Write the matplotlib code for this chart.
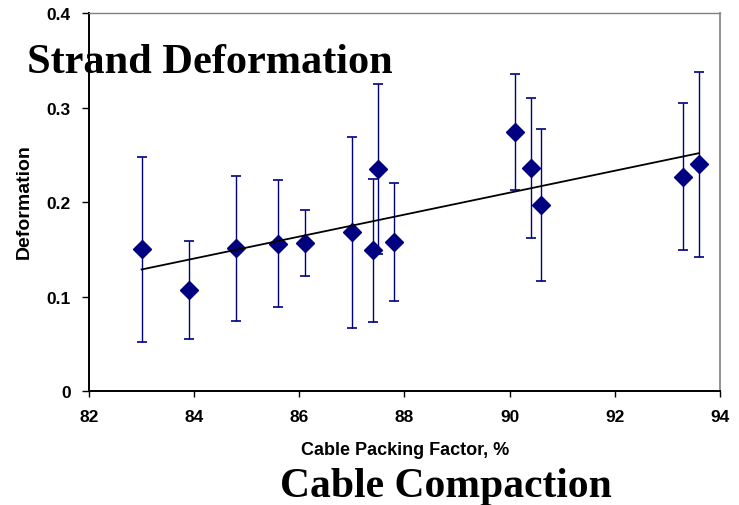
import numpy as np
import matplotlib
matplotlib.use("Agg")
import matplotlib.pyplot as plt

# cable packing factor (%) vs strand deformation, with error bars
packing = [83.0, 83.9, 84.8, 85.6, 86.1, 87.0, 87.4, 87.5, 87.8, 90.1, 90.4, 90.6, 93.3, 93.6]
deform = [0.150, 0.107, 0.151, 0.156, 0.157, 0.168, 0.149, 0.235, 0.158, 0.274, 0.236, 0.197, 0.227, 0.240]
err = [0.098, 0.052, 0.077, 0.067, 0.035, 0.101, 0.076, 0.090, 0.062, 0.061, 0.074, 0.080, 0.078, 0.098]

xticks = [82, 84, 86, 88, 90, 92, 94]
yticks = [0, 0.1, 0.2, 0.3, 0.4]
yticklabels = ["0", "0.1", "0.2", "0.3", "0.4"]

navy = "#000080"

fig = plt.figure(figsize=(7.39, 5.06), dpi=100)
ax = fig.add_axes([0.1204, 0.2247, 0.8539, 0.7476])

eb = ax.errorbar(packing, deform, yerr=err, fmt="none", ecolor=navy, elinewidth=1.0,
                 capsize=3.3, capthick=1.2, zorder=2)
for cap in eb[1]:
    cap.set_color("#5a5ab0")
ax.plot(packing, deform, linestyle="none", marker="D", markersize=9.3,
        color=navy, zorder=3)

# linear trendline over the data range
k, b = np.polyfit(packing, deform, 1)
xs = np.array([min(packing), max(packing)])
ax.plot(xs, k * xs + b, color="black", linewidth=1.3, zorder=4)

ax.set_xlim(82, 94)
ax.set_ylim(0, 0.4)
ax.set_xticks(xticks)
ax.set_yticks(yticks)
ax.set_yticklabels(yticklabels)
for lab in ax.get_xticklabels() + ax.get_yticklabels():
    lab.set_fontweight("bold")
    lab.set_fontfamily("Liberation Sans")
    lab.set_fontsize(12.5)
ax.tick_params(axis="y", direction="out", length=5, width=1, pad=8)
ax.tick_params(axis="x", direction="out", length=4, width=1, pad=9)

ax.spines["left"].set_color("black")
ax.spines["bottom"].set_color("black")
ax.spines["top"].set_color("#808080")
ax.spines["right"].set_color("#808080")
ax.spines["left"].set_linewidth(1.4)
ax.spines["bottom"].set_linewidth(1.4)
ax.spines["top"].set_linewidth(1.0)
ax.spines["right"].set_linewidth(1.2)

fig.text(405 / 739, 1 - 455 / 506, "Cable Packing Factor, %", fontsize=13,
         fontweight="bold", family="Liberation Sans", ha="center", va="baseline")
fig.text(24 / 739, 1 - 202 / 506, "Deformation", fontsize=14, rotation=90,
         fontweight="bold", family="Liberation Sans", ha="center", va="center")

fig.text(27 / 739, 1 - 73 / 506, "Strand Deformation", fontsize=30.5,
         fontweight="bold", family="Liberation Serif", ha="left", va="baseline")
fig.text(446 / 739, 1 - 497 / 506, "Cable Compaction", fontsize=30,
         fontweight="bold", family="Liberation Serif", ha="center", va="baseline")

fig.savefig("out.png", dpi=100)
